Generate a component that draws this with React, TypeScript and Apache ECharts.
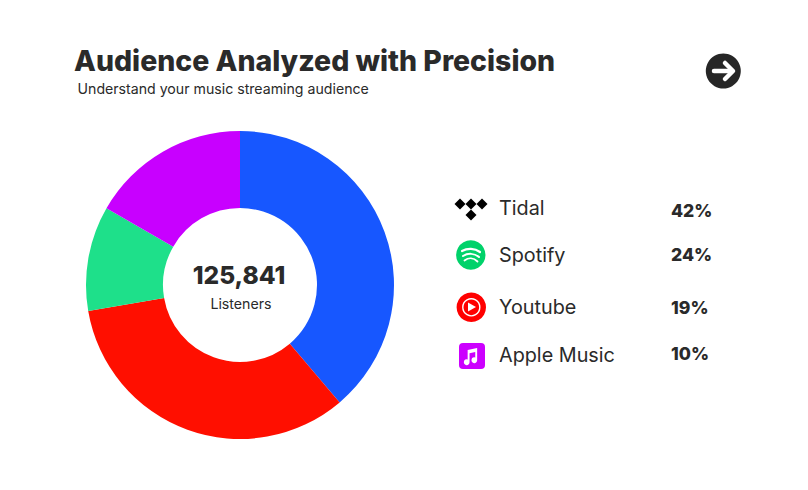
import React, { useEffect, useRef } from "react";
import * as echarts from "echarts";

const sliceNames = ["Blue", "Red", "Green", "Purple"];
const sliceValues = [38.8, 33.5, 11, 16.7];
const sliceColors = ["#1757ff", "#ff0f00", "#1ee08a", "#c800ff"];
const legendNames = ["Tidal", "Spotify", "Youtube", "Apple Music"];
const legendValues = ["42%", "24%", "19%", "10%"];
const legendY = [208, 255, 307, 355];
const valueY = [210, 254, 307, 353];
const FONT = "Inter";
const INK = "#2a2a2a";

const diamond = (cx: number, cy: number, r: number) => ({
  type: "polygon",
  shape: { points: [[cx, cy - r], [cx + r, cy], [cx, cy + r], [cx - r, cy]] },
  style: { fill: "#000" },
});

const notePath = "M7 2 L17 0 L17 12 A3 3 0 1 1 15 9.4 L15 4 L9 5.2 L9 14 A3 3 0 1 1 7 11.4 Z";
echarts.graphic.registerShape("note", echarts.graphic.extendPath(notePath as any, {}) as any);

const spotifyArc = (y: number, hw: number, w: number) => ({
  type: "bezierCurve",
  shape: { x1: 471 - hw, y1: y + 1, x2: 471 + hw, y2: y + 2, cpx1: 471 - hw * 0.4, cpy1: y - 2, cpx2: 471 + hw * 0.4, cpy2: y - 2 },
  style: { stroke: "#fff", lineWidth: w, fill: "none", lineCap: "round" },
});

export default function App() {
  const ref = useRef<HTMLDivElement>(null);
  useEffect(() => {
    const chart = echarts.init(ref.current!, null, { renderer: "svg" });
    const legendText: any[] = [];
    legendNames.forEach((n, i) => {
      legendText.push({
        type: "text", x: 499, y: legendY[i],
        style: { text: n, font: `400 19.8px ${FONT}`, fill: INK, textVerticalAlign: "middle" },
      });
      legendText.push({
        type: "text", x: 671, y: valueY[i],
        style: { text: legendValues[i], font: `800 17.6px ${FONT}`, fill: INK, textVerticalAlign: "middle" },
      });
    });
    chart.setOption({
      animation: false,
      backgroundColor: "#fff",
      series: [{
        type: "pie",
        center: [240, 285],
        radius: [77, 154],
        startAngle: 90,
        clockwise: true,
        label: { show: false },
        labelLine: { show: false },
        silent: true,
        data: sliceNames.map((name, i) => ({ name, value: sliceValues[i], itemStyle: { color: sliceColors[i] } })),
      }],
      graphic: [
        { type: "text", x: 74, y: 60, style: { text: "Audience Analyzed with Precision", font: `800 28.45px ${FONT}`, fill: INK, textVerticalAlign: "middle" } },
        { type: "text", x: 77.5, y: 88, style: { text: "Understand your music streaming audience", font: `400 14.15px ${FONT}`, fill: INK, textVerticalAlign: "middle" } },
        { type: "text", x: 239, y: 275, style: { text: "125,841", font: `800 24.5px ${FONT}`, fill: INK, textAlign: "center", textVerticalAlign: "middle" } },
        { type: "text", x: 241, y: 303, style: { text: "Listeners", font: `400 14.2px ${FONT}`, fill: INK, textAlign: "center", textVerticalAlign: "middle" } },
        // arrow button
        { type: "circle", shape: { cx: 723.3, cy: 71, r: 17.5 }, style: { fill: "#262626" } },
        { type: "polyline", shape: { points: [[714, 71], [732, 71]] }, style: { stroke: "#fff", lineWidth: 4.5, fill: "none", lineCap: "round" } },
        { type: "polyline", shape: { points: [[725, 63], [733, 71], [725, 79]] }, style: { stroke: "#fff", lineWidth: 4.5, fill: "none", lineCap: "round", lineJoin: "round" } },
        // Tidal
        diamond(460, 204, 5.5), diamond(471, 204, 5.5), diamond(482, 204, 5.5), diamond(471, 215, 5.5),
        // Spotify
        { type: "circle", shape: { cx: 470.8, cy: 255, r: 14.7 }, style: { fill: "#00d26a" } },
        spotifyArc(250, 9, 2.2), spotifyArc(255, 8, 2), spotifyArc(259.5, 6.5, 1.8),
        // Youtube
        { type: "circle", shape: { cx: 471.3, cy: 307.3, r: 14.7 }, style: { fill: "#ff0000" } },
        { type: "circle", shape: { cx: 471.3, cy: 307.3, r: 8.5 }, style: { fill: "none", stroke: "#fff", lineWidth: 1.4 } },
        { type: "polygon", shape: { points: [[468, 302.5], [468, 311.5], [476, 307]] }, style: { fill: "#fff" } },
        // Apple Music
        { type: "rect", shape: { x: 459, y: 343, width: 26, height: 26, r: 4 }, style: { fill: "#cc00ff" } },
        { type: "note", x: 461, y: 348, scaleX: 0.95, scaleY: 1, style: { fill: "#fff" } },
        ...legendText,
      ],
    });
    return () => chart.dispose();
  }, []);
  return <div ref={ref} style={{ position: "absolute", left: 0, top: 0, width: 808, height: 490 }} />;
}
